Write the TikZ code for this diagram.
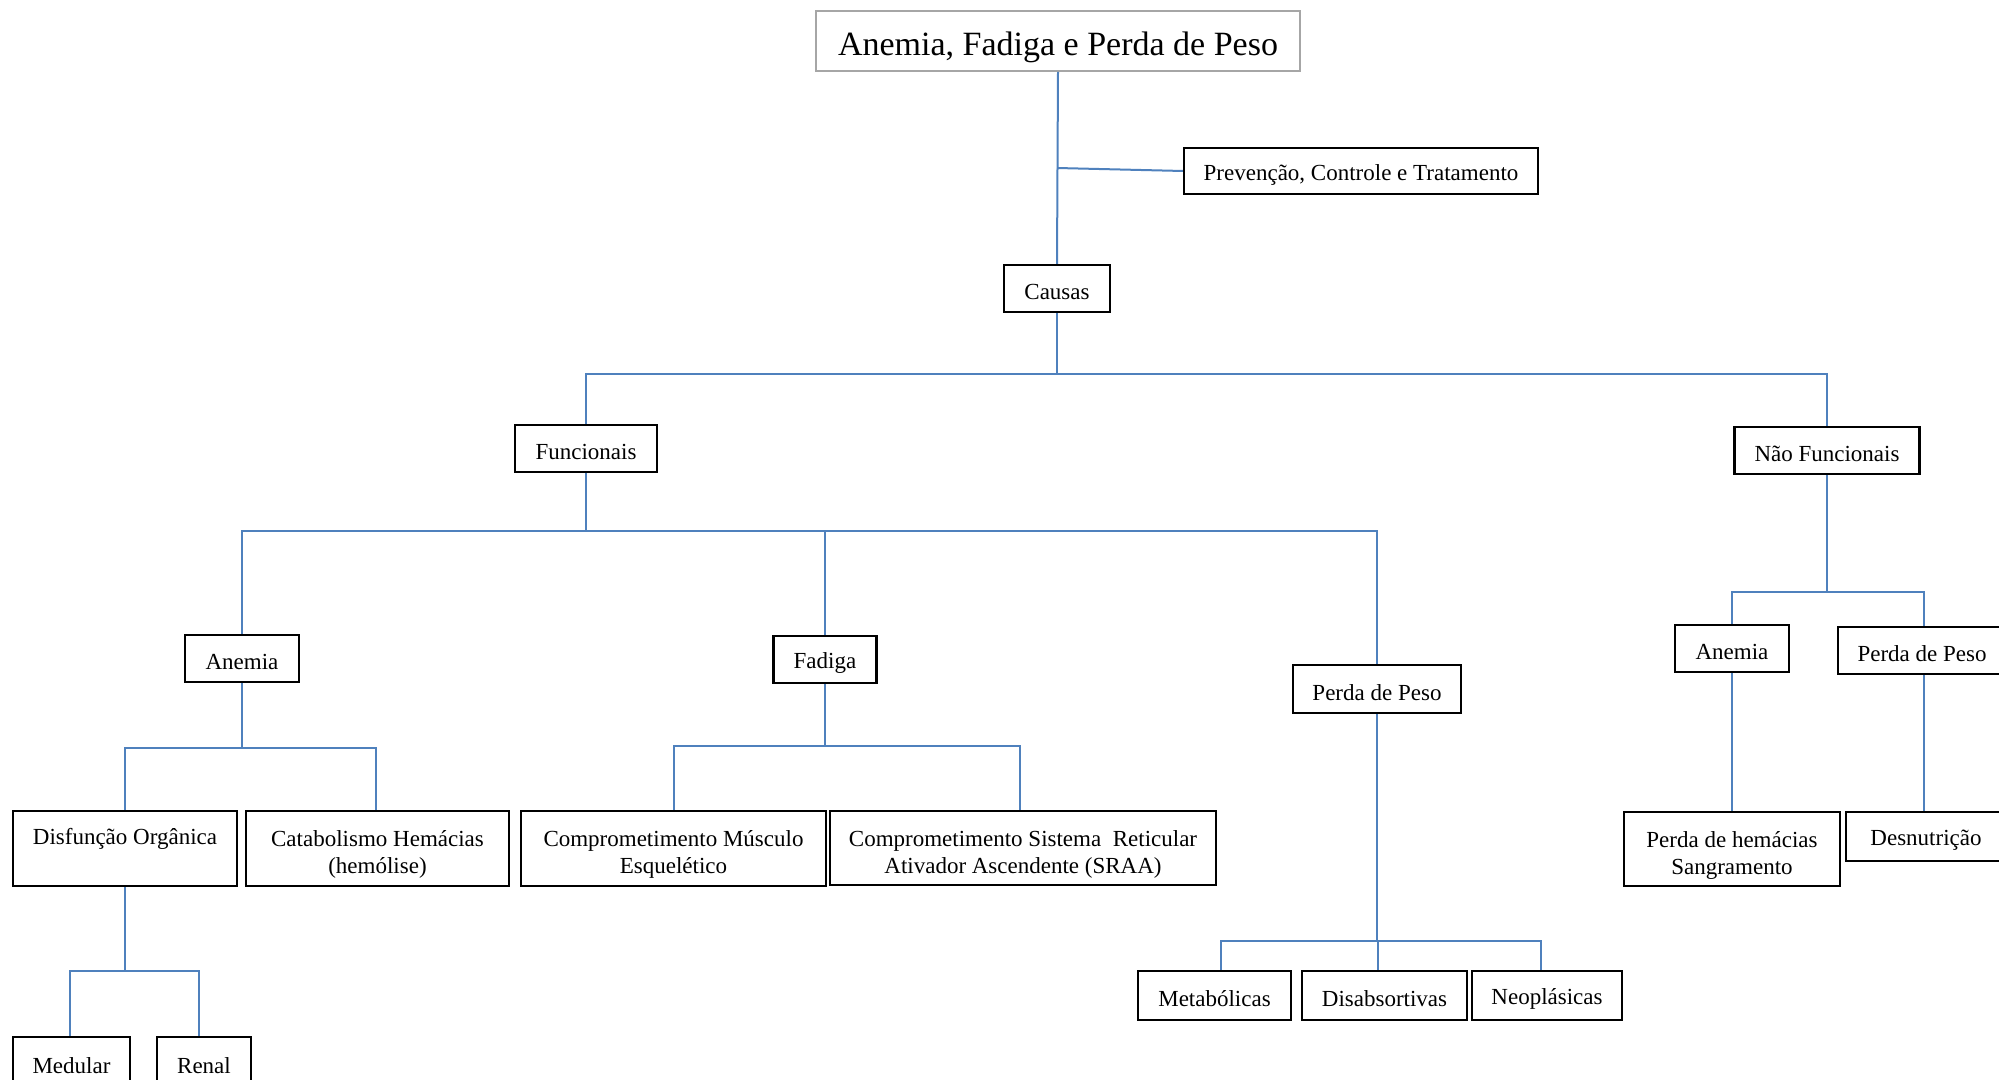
\documentclass[tikz,border=0pt]{standalone}
\usepackage{fontspec}
\setmainfont{Liberation Serif}
\usetikzlibrary{calc}
\definecolor{lnblue}{RGB}{79,129,189}
\newcommand{\toppad}{\rule{0pt}{14pt}}
\tikzset{
  bx/.style={draw=black, line width=1.2pt, inner sep=0pt, align=center,
    font=\fontsize{11.5}{13.5}\selectfont,
    execute at begin node={\rule{0pt}{11.5pt}}},
  ln/.style={draw=lnblue, line width=1pt}
}
\begin{document}
\begin{tikzpicture}[x=0.5pt,y=-0.5pt]
\useasboundingbox (0,0) rectangle (1999,1080);
% nodes
\node[draw=gray!70, line width=0.8pt, inner sep=0pt, minimum width=242pt, minimum height=30pt,
  font=\fontsize{17}{20}\selectfont] (title) at (1058,41) {\rule{0pt}{18pt}Anemia, Fadiga e Perda de Peso};
\node[bx, minimum width=177pt, minimum height=23pt] (prev) at (1361,171) {Prevenção, Controle e Tratamento};
\node[bx, minimum width=53pt, minimum height=23.5pt] (causas) at (1057,288.5) {Causas};
\node[bx, minimum width=71pt, minimum height=23.5pt] (func) at (586,448.5) {Funcionais};
\node[bx, minimum width=92.5pt, minimum height=23.5pt] (naof) at (1827,450.5) {Não Funcionais};
\node[bx, minimum width=57pt, minimum height=23.5pt] (anem1) at (242,658.5) {Anemia};
\node[bx, minimum width=51.5pt, minimum height=23.5pt] (fad) at (825,659.5) {Fadiga};
\node[bx, minimum width=84pt, minimum height=24pt] (perda1) at (1377,689) {Perda de Peso};
\node[bx, minimum width=112pt, minimum height=37.5pt] (disf) at (125,848.5) {\toppad Disfunção Orgânica\\\strut};
\node[bx, minimum width=131.5pt, minimum height=37.5pt] (catab) at (377.5,848.5) {\toppad Catabolismo Hemácias\\(hemólise)};
\node[bx, minimum width=152.5pt, minimum height=37.5pt] (cmus) at (673.5,848.5) {\toppad Comprometimento Músculo\\Esquelético};
\node[bx, minimum width=193pt, minimum height=37pt] (csraa) at (1023,848) {\toppad Comprometimento Sistema\ \ Reticular\\Ativador Ascendente (SRAA)};
\node[bx, minimum width=58.5pt, minimum height=25pt] (medular) at (71.5,1062) {Medular};
\node[bx, minimum width=47pt, minimum height=25pt] (renal) at (204,1062) {Renal};
\node[bx, minimum width=76.5pt, minimum height=24.5pt] (metab) at (1214.5,995.5) {Metabólicas};
\node[bx, minimum width=82.5pt, minimum height=24.5pt] (disab) at (1384.5,995.5) {Disabsortivas};
\node[bx, minimum width=75pt, minimum height=24.5pt] (neopl) at (1547,995.5) {Neoplásicas};
\node[bx, minimum width=57pt, minimum height=23.5pt] (anem2) at (1732,648.5) {Anemia};
\node[bx, minimum width=84pt, minimum height=23.5pt] (perda2) at (1922,650.5) {Perda de Peso};
\node[bx, minimum width=108pt, minimum height=37pt] (hemac) at (1732,849) {\toppad Perda de hemácias\\Sangramento};
\node[bx, minimum width=80pt, minimum height=24.5pt] (desnut) at (1926,836.5) {Desnutrição};
% junction coordinates
\coordinate (jprev) at (1057,168);
\coordinate (j1) at (1057,374);
\coordinate (j2) at (586,531);
\coordinate (j3) at (242,748);
\coordinate (j4) at (825,746);
\coordinate (j5) at (125,971);
\coordinate (j6) at (1377,941);
\coordinate (j7) at (1827,592);
% drop points on child boxes
\coordinate (dcatab) at ($(catab.north)+(-1.5,0)$);
\coordinate (dcsraa) at ($(csraa.north)+(-3,0)$);
\coordinate (dmed) at ($(medular.north)+(-1.5,0)$);
\coordinate (dren) at ($(renal.north)+(-5,0)$);
\coordinate (dmet) at ($(metab.north)+(6.5,0)$);
\coordinate (ddis) at ($(disab.north)+(-6.5,0)$);
\coordinate (dneo) at ($(neopl.north)+(-6,0)$);
\coordinate (dper2) at ($(perda2.north)+(2,0)$);
\coordinate (uper2) at ($(perda2.south)+(2,0)$);
% connectors
\draw[ln] (title.south) -- (causas.north);
\draw[ln] (jprev) -- (prev.west);
\draw[ln] (causas.south) -- (j1);
\draw[ln] (func.north) |- (j1) -| (naof.north);
\draw[ln] (func.south) -- (j2);
\draw[ln] (anem1.north) |- (j2) -| (perda1.north);
\draw[ln] (fad.north) -- (fad.north |- j2);
\draw[ln] (anem1.south) -- (j3);
\draw[ln] (disf.north) |- (j3) -| (dcatab);
\draw[ln] (fad.south) -- (j4);
\draw[ln] (cmus.north) |- (j4) -| (dcsraa);
\draw[ln] (disf.south) -- (j5);
\draw[ln] (dmed) |- (j5) -| (dren);
\draw[ln] (perda1.south) -- (j6);
\draw[ln] (dmet) |- (j6) -| (dneo);
\draw[ln] (ddis) -- (ddis |- j6);
\draw[ln] (naof.south) -- (j7);
\draw[ln] (anem2.north) |- (j7) -| (dper2);
\draw[ln] (anem2.south) -- (hemac.north);
\draw[ln] (uper2) -- (uper2 |- desnut.north);
\end{tikzpicture}
\end{document}
